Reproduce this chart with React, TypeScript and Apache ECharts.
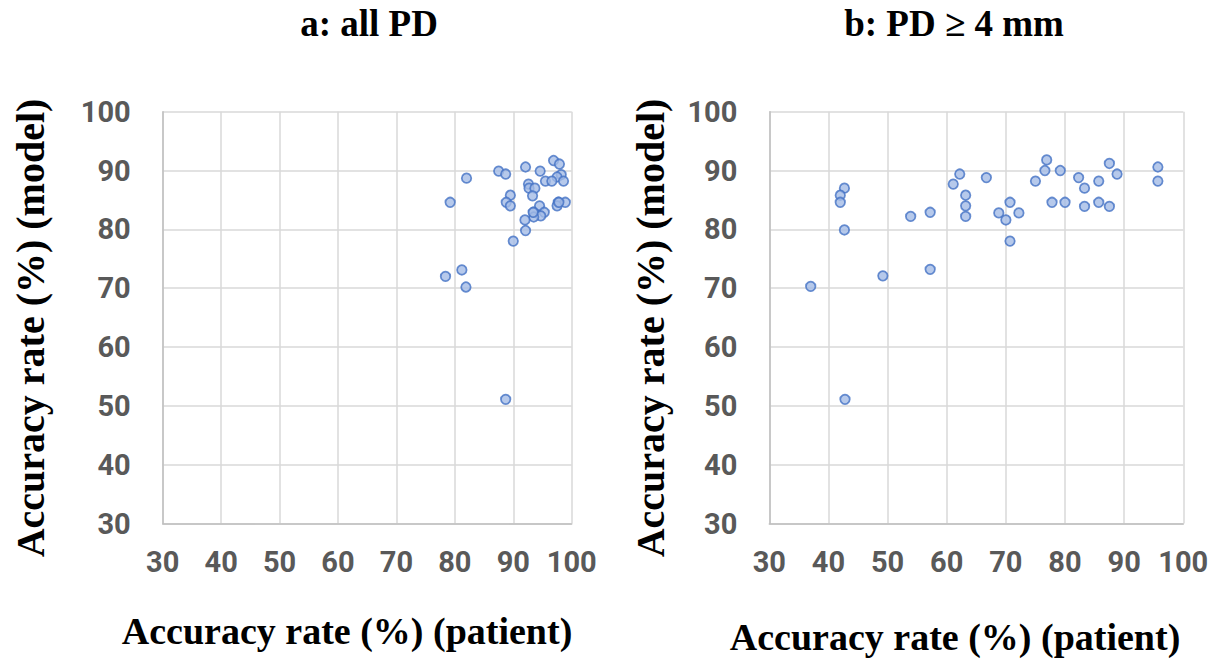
import React, { useEffect, useRef } from "react";
import * as echarts from "echarts";

const axisTicks = [30, 40, 50, 60, 70, 80, 90, 100];

const panelTitles = ["a: all PD", "b: PD \u2265 4 mm"];
const xAxisTitle = "Accuracy rate (%) (patient)";
const yAxisTitle = "Accuracy rate (%) (model)";

// a: all PD  — [patient accuracy, model accuracy]
const allPD: number[][] = [
  [96.9, 91.7], [97.9, 91.1], [87.5, 89.9], [88.7, 89.4], [92.1, 90.6],
  [94.6, 89.9], [82.0, 88.7], [98.2, 89.3], [97.5, 88.9], [95.5, 88.2],
  [96.6, 88.2], [98.6, 88.2], [92.6, 87.7], [92.7, 87.0], [93.7, 87.0],
  [93.3, 85.7], [89.5, 85.8], [88.8, 84.6], [89.5, 84.0], [79.2, 84.6],
  [94.5, 84.0], [97.7, 84.6], [97.5, 84.0], [98.9, 84.6], [93.5, 82.9],
  [95.3, 82.9], [94.7, 82.3], [93.5, 82.1], [92.0, 81.6], [92.1, 79.8],
  [90.0, 78.0], [78.4, 72.0], [81.2, 73.1], [81.9, 70.2], [88.7, 51.1],
  [93.4, 82.9], [97.8, 84.6],
];

// b: PD >= 4 mm
const pd4: number[][] = [
  [37.0, 70.3], [49.2, 72.1], [57.2, 73.2], [42.8, 51.1], [42.7, 87.0],
  [42.0, 85.8], [42.0, 84.6], [42.7, 79.9], [53.9, 82.2], [57.2, 82.9],
  [62.2, 89.4], [61.1, 87.7], [63.2, 85.8], [63.2, 84.0], [63.2, 82.2],
  [66.7, 88.8], [76.9, 91.8], [76.6, 90.0], [79.2, 90.0], [75.0, 88.2],
  [70.7, 84.6], [68.8, 82.8], [70.0, 81.6], [72.2, 82.8], [70.7, 78.0],
  [77.8, 84.6], [80.0, 84.6], [82.3, 88.8], [83.3, 87.0], [83.3, 83.9],
  [85.7, 88.2], [85.7, 84.6], [87.5, 91.2], [88.8, 89.4], [87.5, 83.9],
  [95.7, 90.6], [95.7, 88.2],
];

const serif = "'Liberation Serif', 'Times New Roman', serif";
const sans = "Roboto, 'Liberation Sans', sans-serif";
const labelColor = "#595959";

function makeAxis(gridIndex: number) {
  return {
    gridIndex,
    type: "value" as const,
    min: axisTicks[0],
    max: axisTicks[axisTicks.length - 1],
    interval: 10,
    axisLine: { show: true, lineStyle: { color: "#bfbfbf", width: 1.5 } },
    axisTick: { show: false },
    splitLine: { show: true, lineStyle: { color: "#d9d9d9", width: 1.5 } },
  };
}

export default function App() {
  const ref = useRef<HTMLDivElement>(null);

  useEffect(() => {
    if (!ref.current) return;
    const chart = echarts.init(ref.current, undefined, { renderer: "svg" });
    const labelStyle = {
      color: labelColor,
      fontFamily: sans,
      fontSize: 29,
      fontWeight: "bold" as const,
    };
    const xAxes = [0, 1].map((i) => ({
      ...makeAxis(i),
      axisLabel: { ...labelStyle, margin: 24 },
    }));
    const yAxes = [0, 1].map((i) => ({
      ...makeAxis(i),
      axisLabel: { ...labelStyle, margin: 32 },
    }));
    const seriesStyle = {
      type: "scatter" as const,
      symbol: "circle",
      symbolSize: 9.5,
      itemStyle: { color: "#a4bbe6", borderColor: "#4472c4", borderWidth: 1.75 },
    };
    const titleStyle = {
      fontFamily: serif,
      fontWeight: "bold" as const,
      fill: "#000",
      textAlign: "center" as const,
      textVerticalAlign: "middle" as const,
    };
    chart.setOption({
      animation: false,
      backgroundColor: "#ffffff",
      grid: [
        { left: 162.7, top: 111.7, width: 409, height: 411.8 },
        { left: 769.3, top: 111.7, width: 414, height: 411.8 },
      ],
      xAxis: xAxes,
      yAxis: yAxes,
      series: [
        { ...seriesStyle, xAxisIndex: 0, yAxisIndex: 0, data: allPD },
        { ...seriesStyle, xAxisIndex: 1, yAxisIndex: 1, data: pd4 },
      ],
      graphic: [
        { type: "text", x: 369, y: 23, style: { ...titleStyle, text: panelTitles[0], fontSize: 37 } },
        { type: "text", x: 954, y: 23, style: { ...titleStyle, text: panelTitles[1], fontSize: 37 } },
        { type: "text", x: 347, y: 631, style: { ...titleStyle, text: xAxisTitle, fontSize: 38 } },
        { type: "text", x: 955, y: 637, style: { ...titleStyle, text: xAxisTitle, fontSize: 38 } },
        { type: "text", x: 30, y: 328, rotation: Math.PI / 2, style: { ...titleStyle, text: yAxisTitle, fontSize: 40 } },
        { type: "text", x: 650, y: 328, rotation: Math.PI / 2, style: { ...titleStyle, text: yAxisTitle, fontSize: 40 } },
      ],
    });
    return () => chart.dispose();
  }, []);

  return (
    <div
      ref={ref}
      style={{ position: "fixed", left: 0, top: 0, width: 1221, height: 662, background: "#fff" }}
    />
  );
}
